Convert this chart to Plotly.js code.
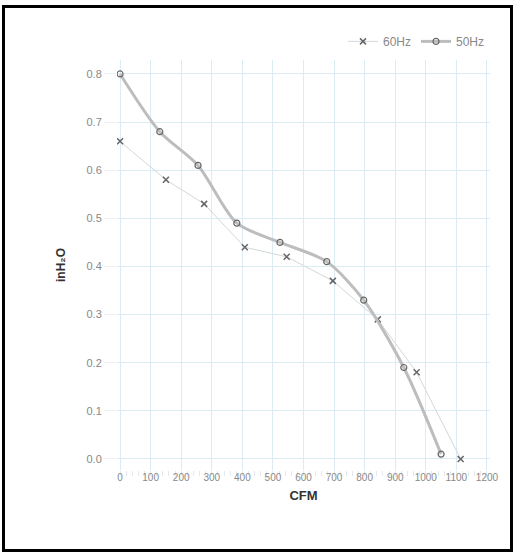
<!DOCTYPE html>
<html>
<head>
<meta charset="utf-8">
<script src="https://cdn.plot.ly/plotly-3.0.1.min.js"></script>
<style>
html,body{margin:0;padding:0;background:#fff;}
#wrap{position:relative;width:515px;height:552px;}
#chart{position:absolute;left:0;top:0;width:515px;height:552px;}
#frame{position:absolute;left:2px;top:5px;width:505px;height:541px;border:3px solid #000;pointer-events:none;}
</style>
</head>
<body>
<div id="wrap"><div id="chart"></div><div id="frame"></div></div>
<script>
// Series: 50Hz (thick smooth line, open circles)
var cfm50 = [0, 130, 255, 382, 523, 676, 797, 928, 1050];
var p50   = [0.80, 0.68, 0.61, 0.49, 0.45, 0.41, 0.33, 0.19, 0.01];
// Series: 60Hz (thin line, x markers)
var cfm60 = [0, 150, 275, 408, 545, 696, 843, 970, 1114];
var p60   = [0.66, 0.58, 0.53, 0.44, 0.42, 0.37, 0.29, 0.18, 0.00];
var xTicks = [0,100,200,300,400,500,600,700,800,900,1000,1100,1200];
var yTicks = [0,0.1,0.2,0.3,0.4,0.5,0.6,0.7,0.8];

var traces = [
  {
    x: cfm60, y: p60, name: '60Hz', type: 'scatter', mode: 'lines+markers',
    line: {color: '#d2d8dc', width: 1},
    marker: {symbol: 'x-thin-open', size: 6, color: '#666', line: {width: 1.5, color: '#666'}}
  },
  {
    x: cfm50, y: p50, name: '50Hz', type: 'scatter', mode: 'lines+markers',
    line: {color: '#bdbdbd', width: 3, shape: 'spline', smoothing: 0.8},
    marker: {symbol: 'circle-open', size: 6, color: '#666', line: {width: 1.2, color: '#666'}}
  }
];

var layout = {
  width: 515, height: 552,
  margin: {l: 117, r: 25, t: 60, b: 82},
  paper_bgcolor: '#fff', plot_bgcolor: '#fff',
  font: {family: 'Liberation Sans, Arial, sans-serif', color: '#888', size: 11},
  showlegend: true,
  legend: {orientation: 'h', x: 1, xanchor: 'right', y: 1.01, yanchor: 'bottom',
           font: {size: 12, color: '#888'}, bgcolor: 'rgba(0,0,0,0)'},
  xaxis: {
    range: [-10, 1210], tickvals: xTicks, ticktext: xTicks.map(String),
    showgrid: true, gridcolor: '#dcecf5', gridwidth: 1,
    zeroline: false, showline: false,
    ticks: '', tickfont: {size: 10, color: '#888'},
    minor: {dtick: 20, ticks: 'outside', ticklen: 5, tickcolor: '#e4e8ec', showgrid: false},
    title: {text: '<b>CFM</b>', font: {size: 13, color: '#333'}, standoff: 8}
  },
  yaxis: {
    range: [-0.023, 0.829], tickvals: yTicks, tickformat: '.1f',
    showgrid: true, gridcolor: '#dcecf5', gridwidth: 1,
    zeroline: false, showline: false,
    ticks: 'outside', ticklen: 12, tickcolor: '#eef0f2',
    tickfont: {size: 11, color: '#888'},
    title: {text: '<b>inH₂O</b>', font: {size: 12, color: '#333'}, standoff: 18}
  }
};

Plotly.newPlot('chart', traces, layout, {displayModeBar: false, staticPlot: true});
</script>
</body>
</html>
